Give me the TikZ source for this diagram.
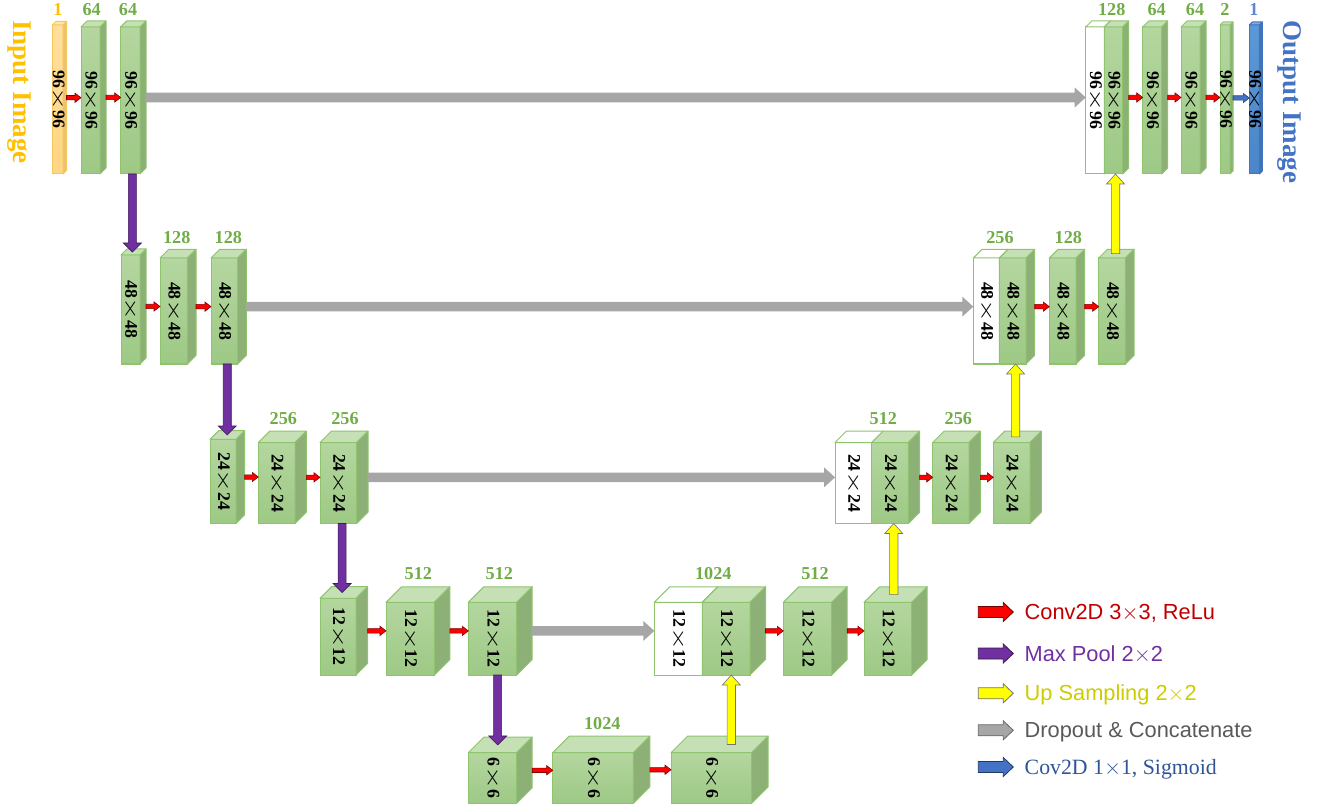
\documentclass[tikz,border=0pt]{standalone}
\usepackage{fontspec}
\setmainfont{Liberation Serif}
\newfontfamily\arialfont{Liberation Sans}
\usepackage{xcolor}
\definecolor{MapLight}{HTML}{B4D69F}
\definecolor{MapDark}{HTML}{9DC985}
\definecolor{MapTop}{HTML}{C5E0B4}
\definecolor{MapSide}{HTML}{8DB077}
\definecolor{MapEdge}{HTML}{8FC46F}
\definecolor{ChanGreen}{HTML}{70AD47}
\definecolor{InGold}{HTML}{FFC000}
\definecolor{InLight}{HTML}{FFDE9E}
\definecolor{InDark}{HTML}{FFD585}
\definecolor{InTop}{HTML}{FFE6B0}
\definecolor{InSide}{HTML}{EBC274}
\definecolor{InEdge}{HTML}{F5C85A}
\definecolor{OutBlue}{HTML}{4472C4}
\definecolor{OutLight}{HTML}{5C98D6}
\definecolor{OutDark}{HTML}{4A86C8}
\definecolor{OutSide}{HTML}{3F74B5}
\definecolor{ConvRed}{HTML}{FF0000}
\definecolor{PoolPurple}{HTML}{7030A0}
\definecolor{UpYellow}{HTML}{FFFF00}
\definecolor{SkipGray}{HTML}{A6A6A6}
\definecolor{SigBlue}{HTML}{4472C4}
\definecolor{LegRed}{HTML}{C00000}
\definecolor{LegYellow}{HTML}{CCCC00}
\definecolor{LegGray}{HTML}{595959}
\definecolor{LegBlue}{HTML}{2F5597}
\usepackage{tikz}
\usetikzlibrary{calc}
\tikzset{>=latex}
% block arrow between two points: half shaft, half head, head length
\tikzset{blockarrow/.style n args={3}{to path={
	let \p3=($(\tikztotarget)!#3!(\tikztostart)$) in
	($(\tikztostart)!#1!90:(\tikztotarget)$) -- ($(\p3)!#1!90:(\tikztotarget)$)
	-- ($(\p3)!#2!90:(\tikztotarget)$) -- (\tikztotarget)
	-- ($(\p3)!#2!-90:(\tikztotarget)$) -- ($(\p3)!#1!-90:(\tikztotarget)$)
	-- ($(\tikztostart)!#1!-90:(\tikztotarget)$) -- cycle}}}
\tikzset{
	green front/.style={anchor=north west, inner sep=0pt, outer sep=0pt, draw=MapEdge, line width=0.5pt, top color=MapLight, bottom color=MapDark},
	green top/.style={fill=MapTop, draw=MapEdge, line width=0.5pt, line join=round},
	green side/.style={fill=MapSide, draw=MapEdge, line width=0.5pt, line join=round},
	white front/.style={anchor=north west, inner sep=0pt, outer sep=0pt, draw=MapEdge, line width=0.5pt, fill=white},
	white top/.style={fill=white, draw=MapEdge, line width=0.5pt, line join=round},
	white side/.style={fill=white, draw=MapEdge, line width=0.5pt, line join=round},
	yellow front/.style={anchor=north west, inner sep=0pt, outer sep=0pt, draw=InEdge, line width=0.5pt, top color=InLight, bottom color=InDark},
	yellow top/.style={fill=InTop, draw=InEdge, line width=0.5pt, line join=round},
	yellow side/.style={fill=InSide, draw=InEdge, line width=0.5pt, line join=round},
	blue front/.style={anchor=north west, inner sep=0pt, outer sep=0pt, draw=OutBlue, line width=0.5pt, top color=OutLight, bottom color=OutDark},
	blue top/.style={fill=OutLight!80!white, draw=OutBlue, line width=0.5pt, line join=round},
	blue side/.style={fill=OutSide, draw=OutBlue, line width=0.5pt, line join=round},
	dims/.style={rotate=-90, inner sep=0pt, font=\bfseries\fontsize{8.9}{9}\selectfont},
	chan/.style={inner sep=0pt, text=ChanGreen, font=\bfseries\fontsize{9.1}{10}\selectfont},
	side title/.style={rotate=-90, anchor=west, inner sep=0pt, font=\bfseries\fontsize{13.5}{14}\selectfont},
	legend/.style={anchor=west, inner xsep=5.5pt, inner ysep=0pt, text height=7.6pt, text depth=0pt, font=\arialfont\fontsize{10.9}{12}\selectfont}
}
\tikzstyle{conv}=[blockarrow={1.1pt}{2.3pt}{3pt}, fill=ConvRed, draw=ConvRed!50!black, line width=0.3pt]
\tikzstyle{sigm}=[blockarrow={1.1pt}{2.3pt}{3pt}, fill=SigBlue, draw=SigBlue!60!black, line width=0.3pt]
\tikzstyle{pool}=[blockarrow={2pt}{4.5pt}{4.5pt}, fill=PoolPurple, draw=PoolPurple!55!black, line width=0.3pt]
\tikzstyle{upsam}=[blockarrow={2.1pt}{4.5pt}{5pt}, fill=UpYellow, draw=black!55, line width=0.3pt]
\tikzstyle{skip}=[blockarrow={2.4pt}{5pt}{5.5pt}, fill=SkipGray, draw=none]
\tikzstyle{conv key}=[blockarrow={2.75pt}{4.75pt}{5pt}, fill=ConvRed, draw=ConvRed!45!black, line width=0.4pt]
\tikzstyle{pool key}=[blockarrow={2.75pt}{4.75pt}{5pt}, fill=PoolPurple, draw=PoolPurple!50!black, line width=0.4pt]
\tikzstyle{upsam key}=[blockarrow={2.75pt}{4.75pt}{5pt}, fill=UpYellow, draw=black!55, line width=0.4pt]
\tikzstyle{skip key}=[blockarrow={2.75pt}{4.75pt}{5pt}, fill=SkipGray, draw=black!60, line width=0.4pt]
\tikzstyle{sigm key}=[blockarrow={2.75pt}{4.75pt}{5pt}, fill=SigBlue, draw=SigBlue!50!black, line width=0.4pt]
% feature map cuboid: [scheme]{name}{x}{y top}{width}{height}{depth}{text}
\newcommand{\fmap}[8][green]{%
	\node[#1 front, minimum width=#5*0.5pt, minimum height=#6*0.5pt] (#2) at (#3,#4) {};
	\filldraw[#1 top] (#2.north west) -- ++(#7,-#7) -- ++(#5,0) -- (#2.north east) -- cycle;
	\filldraw[#1 side] (#2.north east) -- ++(#7,-#7) -- ++(0,#6) -- (#2.south east) -- cycle;
	\coordinate (#2-r) at ([shift={(#7,-#7/2)}]#2.east);
	\coordinate (#2-t) at ([shift={(#7/2,-#7/2)}]#2.north);
	\coordinate (#2-s) at ([shift={(#7/3,0)}]#2.south);
	\node[dims] (#2-txt) at (#2.center) {#8};}
\newcommand{\tms}{\makebox[1.25em]{\scalebox{1.6}[1.1]{$\times$}}}

\begin{document}
\begin{tikzpicture}[x=0.5pt, y=-0.5pt]
	\useasboundingbox (0,0) rectangle (1321,807);
	
	% Level 1 (96x96)
	\fmap[yellow]{in}{52.5}{25}{10.5}{149}{3.5}{96\tms96}
	\fmap{e1a}{81}{27}{19}{147}{6}{96\tms96}
	\fmap{e1b}{120.7}{27}{19.3}{147}{6}{96\tms96}
	\fmap[white]{d1w}{1085.7}{27}{18.6}{147}{6}{96\tms96}
	\fmap{d1a}{1104.3}{27}{18.4}{147}{6}{96\tms96}
	\fmap{d1b}{1142.7}{27}{19}{147}{6}{96\tms96}
	\fmap{d1c}{1181}{27}{19}{147}{6}{96\tms96}
	\fmap{d1d}{1220}{25}{10}{149}{3}{96\tms96}
	\fmap[blue]{out}{1249.3}{25}{10}{149}{3}{96\tms96}
	
	% Level 2 (48x48)
	\fmap{e2a}{121}{255}{19}{109}{6}{48\tms48}
	\fmap{e2b}{160}{258}{27.3}{106}{8.7}{48\tms48}
	\fmap{e2c}{211}{258}{26.7}{106}{8.7}{48\tms48}
	\fmap[white]{d2w}{973.3}{258}{26}{106}{8.7}{48\tms48}
	\fmap{d2a}{999.3}{258}{26.7}{106}{8.7}{48\tms48}
	\fmap{d2b}{1049.3}{258}{26.7}{106}{8.7}{48\tms48}
	\fmap{d2c}{1098.7}{258}{26.7}{106}{8.7}{48\tms48}
	
	% Level 3 (24x24)
	\fmap{e3a}{210}{439.3}{26}{84}{8.6}{24\tms24}
	\fmap{e3b}{258.3}{442.5}{36.7}{81}{11.3}{24\tms24}
	\fmap{e3c}{320}{442.5}{36.7}{81}{11.3}{24\tms24}
	\fmap[white]{d3w}{835}{442.5}{36.7}{81}{11.3}{24\tms24}
	\fmap{d3a}{871.7}{442.5}{36.6}{81}{11.3}{24\tms24}
	\fmap{d3b}{932.7}{442.5}{36.3}{81}{11.3}{24\tms24}
	\fmap{d3c}{993.3}{442.5}{36.7}{81}{11.3}{24\tms24}
	
	% Level 4 (12x12)
	\fmap{e4a}{320}{598.3}{36}{76.7}{11.6}{12\tms12}
	\fmap{e4b}{386}{602.3}{48.3}{72.7}{15.5}{12\tms12}
	\fmap{e4c}{468.3}{602.3}{48.4}{72.7}{15.5}{12\tms12}
	\fmap[white]{d4w}{654.3}{602.3}{48}{72.7}{15.5}{12\tms12}
	\fmap{d4a}{702.3}{602.3}{47.7}{72.7}{15.5}{12\tms12}
	\fmap{d4b}{783.3}{602.3}{48.4}{72.7}{15.5}{12\tms12}
	\fmap{d4c}{864}{602.3}{47.7}{72.7}{15.5}{12\tms12}
	
	% Level 5 (6x6)
	\fmap{m5a}{468.3}{752.7}{48.4}{50.6}{15.5}{6\tms6}
	\fmap{m5b}{552.7}{752.7}{80.6}{50.6}{16.5}{6\tms6}
	\fmap{m5c}{671}{752.7}{80.7}{50.6}{16.5}{6\tms6}
	
	% Conv arrows
	\draw[conv] (in-r) to (in-r -| e1a.west);
	\draw[conv] (e1a-r) to (e1a-r -| e1b.west);
	\draw[conv] (d1a-r) to (d1a-r -| d1b.west);
	\draw[conv] (d1b-r) to (d1b-r -| d1c.west);
	\draw[conv] (d1c-r) to (d1c-r -| d1d.west);
	\draw[sigm] (d1d-r) to (d1d-r -| out.west);
	\draw[conv] (e2a-r) to (e2a-r -| e2b.west);
	\draw[conv] (e2b-r) to (e2b-r -| e2c.west);
	\draw[conv] (d2a-r) to (d2a-r -| d2b.west);
	\draw[conv] (d2b-r) to (d2b-r -| d2c.west);
	\draw[conv] (e3a-r) to (e3a-r -| e3b.west);
	\draw[conv] (e3b-r) to (e3b-r -| e3c.west);
	\draw[conv] (d3a-r) to (d3a-r -| d3b.west);
	\draw[conv] (d3b-r) to (d3b-r -| d3c.west);
	\draw[conv] (e4a-r) to (e4a-r -| e4b.west);
	\draw[conv] (e4b-r) to (e4b-r -| e4c.west);
	\draw[conv] (d4a-r) to (d4a-r -| d4b.west);
	\draw[conv] (d4b-r) to (d4b-r -| d4c.west);
	\draw[conv] (m5a-r) to (m5a-r -| m5b.west);
	\draw[conv] (m5b-r) to (m5b-r -| m5c.west);
	
	% Max pool arrows
	\draw[pool] (e1b-s) to (e1b-s |- e2a-t);
	\draw[pool] (e2c-s) to (e2c-s |- e3a-t);
	\draw[pool] (e3c-s) to (e3c-s |- e4a-t);
	\draw[pool] (e4c-s) to (e4c-s |- m5a-t);
	
	% Up sampling arrows
	\draw[upsam] (d4a-s |- m5c-t) to (d4a-s);
	\draw[upsam] (d3a-s |- d4c-t) to (d3a-s);
	\draw[upsam] (d2a-s |- d3c-t) to (d2a-s);
	\draw[upsam] (d1a-s |- d2c-t) to (d1a-s);
	
	% Skip connections
	\draw[skip] (e1b-r) to (e1b-r -| d1w.west);
	\draw[skip] (e2c-r) to (e2c-r -| d2w.west);
	\draw[skip] (e3c-r) to (e3c-r -| d3w.west);
	\draw[skip] (e4c-r) to (e4c-r -| d4w.west);
	
	% Channel numbers
	\node[chan, text=InGold] (n-in) at (58,9.5) {1};
	\node[chan] (n-e1a) at (91.7,9.5) {64};
	\node[chan] (n-e1b) at (128,9.5) {64};
	\node[chan] (n-d1a) at (1111.7,9.5) {128};
	\node[chan] (n-d1b) at (1156.7,9.5) {64};
	\node[chan] (n-d1c) at (1195,9.5) {64};
	\node[chan] (n-d1d) at (1225,9.5) {2};
	\node[chan, text=OutBlue!85] (n-out) at (1254,9.5) {1};
	\node[chan] (n-e2b) at (176.7,237.5) {128};
	\node[chan] (n-e2c) at (228.3,237.5) {128};
	\node[chan] (n-d2a) at (1000,237.5) {256};
	\node[chan] (n-d2b) at (1068.3,237.5) {128};
	\node[chan] (n-e3b) at (283.3,418.7) {256};
	\node[chan] (n-e3c) at (345,418.7) {256};
	\node[chan] (n-d3a) at (883.3,418.7) {512};
	\node[chan] (n-d3b) at (958.3,418.7) {256};
	\node[chan] (n-e4b) at (418.3,574) {512};
	\node[chan] (n-e4c) at (499.3,574) {512};
	\node[chan] (n-d4a) at (713.3,574) {1024};
	\node[chan] (n-d4b) at (815,574) {512};
	\node[chan] (n-m5b) at (602.3,724) {1024};
	
	% Input / output titles
	\node[side title, text=InGold] (inimg) at (19.7,20) {Input Image};
	\node[side title, text=OutBlue] (outimg) at (1289.4,20) {Output Image};
	
	% Legend
	\coordinate (k1) at (978.3,612);
	\coordinate (k2) at (978.3,653.5);
	\coordinate (k3) at (978.3,693.3);
	\coordinate (k4) at (978.3,730.3);
	\coordinate (k5) at (978.3,767);
	\node[legend, text=LegRed] (g1) at (1013.3,612) {Conv2D 3$\times$3, ReLu};
	\node[legend, text=PoolPurple] (g2) at (1013.3,653.5) {Max Pool 2$\times$2};
	\node[legend, text=LegYellow] (g3) at (1013.3,693.3) {Up Sampling 2$\times$2};
	\node[legend, text=LegGray] (g4) at (1013.3,730.3) {Dropout \& Concatenate};
	\node[legend, text=LegBlue, font=\fontsize{10.9}{12}\selectfont] (g5) at (1013.3,767) {Cov2D 1$\times$1, Sigmoid};
	\draw[conv key] (k1) to (g1.west);
	\draw[pool key] (k2) to (g2.west);
	\draw[upsam key] (k3) to (g3.west);
	\draw[skip key] (k4) to (g4.west);
	\draw[sigm key] (k5) to (g5.west);
\end{tikzpicture}
\end{document}
